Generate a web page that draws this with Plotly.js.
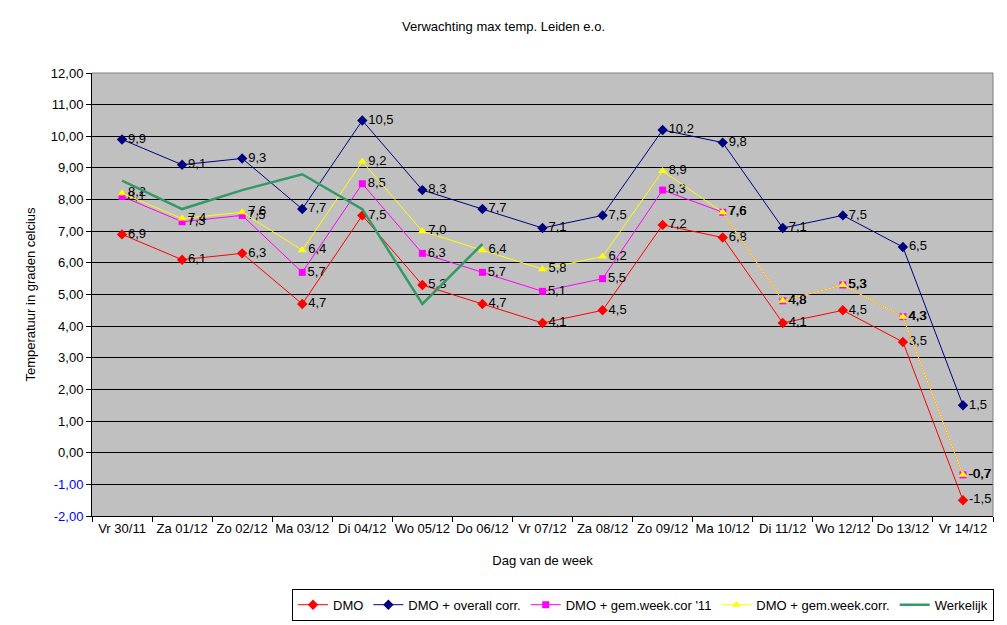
<!DOCTYPE html>
<html>
<head>
<meta charset="utf-8">
<script src="https://cdn.plot.ly/plotly-3.0.1.min.js"></script>
<style>
  html, body { margin: 0; padding: 0; background: #ffffff; }
  #chart { width: 1007px; height: 625px; }
</style>
</head>
<body>
<div id="chart"></div>
<script>
// dagen (categorie-as)
var dagen = ['Vr 30/11', 'Za 01/12', 'Zo 02/12', 'Ma 03/12', 'Di 04/12', 'Wo 05/12', 'Do 06/12',
             'Vr 07/12', 'Za 08/12', 'Zo 09/12', 'Ma 10/12', 'Di 11/12', 'Wo 12/12', 'Do 13/12', 'Vr 14/12'];

// verwachtingen
var dmo         = [6.9, 6.1, 6.3, 4.7, 7.5, 5.3, 4.7, 4.1, 4.5, 7.2, 6.8, 4.1, 4.5, 3.5, -1.5];
var dmoOverall  = [9.9, 9.1, 9.3, 7.7, 10.5, 8.3, 7.7, 7.1, 7.5, 10.2, 9.8, 7.1, 7.5, 6.5, 1.5];
var dmoWeek11   = [8.1, 7.3, 7.5, 5.7, 8.5, 6.3, 5.7, 5.1, 5.5, 8.3, 7.6, 4.8, 5.3, 4.3, -0.7];
var dmoWeek     = [8.2, 7.4, 7.6, 6.4, 9.2, 7.0, 6.4, 5.8, 6.2, 8.9, 7.6, 4.8, 5.3, 4.3, -0.7];
// gemeten
var werkelijk   = [8.6, 7.7, 8.3, 8.8, 7.7, 4.7, 6.6];

var yTicks = [-2, -1, 0, 1, 2, 3, 4, 5, 6, 7, 8, 9, 10, 11, 12];

var fontFam = 'Arial, "Liberation Sans", sans-serif';

function labels(arr) {
    return arr.map(function (v) { return v.toFixed(1).replace('.', ','); });
}

function serie(naam, y, kleur, symbool, grootte) {
    return {
        type: 'scatter',
        mode: 'lines+markers+text',
        name: naam,
        x: dagen,
        y: y,
        text: labels(y),
        textposition: 'middle right',
        textfont: { family: fontFam, size: 13, color: '#000000' },
        line: { color: kleur, width: 1 },
        marker: { color: kleur, symbol: symbool, size: grootte },
        cliponaxis: false
    };
}

var data = [
    serie('DMO', dmo, '#ff0000', 'diamond', 8),
    serie('DMO + overall corr.', dmoOverall, '#000080', 'diamond', 8),
    serie("DMO + gem.week.cor '11", dmoWeek11, '#ff00ff', 'square', 7),
    serie('DMO + gem.week.corr.', dmoWeek, '#ffff00', 'triangle-up', 8),
    {
        type: 'scatter',
        mode: 'lines',
        name: 'Werkelijk',
        x: dagen.slice(0, werkelijk.length),
        y: werkelijk,
        line: { color: '#339966', width: 2.5 }
    }
];

var yText = yTicks.map(function (v) {
    var t = v.toFixed(2).replace('.', ',');
    return v < 0 ? '<span style="fill:#0000ff">' + t + '</span>' : t;
});

var layout = {
    width: 1007,
    height: 625,
    paper_bgcolor: '#ffffff',
    plot_bgcolor: '#c0c0c0',
    font: { family: fontFam, size: 13, color: '#000000' },
    margin: { l: 92, r: 14, t: 73, b: 109, autoexpand: false },
    title: {
        text: 'Verwachting max temp. Leiden e.o.',
        font: { family: fontFam, size: 13, color: '#000000' },
        x: 0.5, xanchor: 'center',
        y: 0.957, yanchor: 'middle'
    },
    showlegend: true,
    legend: {
        orientation: 'h',
        x: 0.222, xanchor: 'left',
        yref: 'container',
        y: 0.058, yanchor: 'top',
        bgcolor: '#ffffff',
        bordercolor: '#000000',
        borderwidth: 1,
        font: { family: fontFam, size: 13, color: '#000000' },
        tracegroupgap: 0,
        itemwidth: 30
    },
    xaxis: {
        type: 'category',
        range: [-0.5, 14.5],
        automargin: false,
        showgrid: false,
        zeroline: false,
        showline: true,
        linecolor: '#000000',
        linewidth: 1,
        ticks: 'outside',
        tickson: 'boundaries',
        ticklen: 5,
        tickcolor: '#000000',
        tickangle: 0,
        tickfont: { family: fontFam, size: 13, color: '#000000' },
        title: { text: 'Dag van de week', font: { family: fontFam, size: 13 }, standoff: 21 }
    },
    yaxis: {
        range: [-2, 12],
        automargin: false,
        tickvals: yTicks,
        ticktext: yText,
        showgrid: true,
        gridcolor: '#000000',
        gridwidth: 1,
        zeroline: false,
        showline: true,
        linecolor: '#000000',
        linewidth: 1,
        ticks: 'outside',
        ticklen: 5,
        tickcolor: '#000000',
        tickfont: { family: fontFam, size: 13, color: '#000000' },
        title: { text: 'Temperatuur in graden celcius', font: { family: fontFam, size: 13 }, standoff: 12 }
    },
    shapes: [
        // grijze rand rond plotgebied (boven/rechts)
        { type: 'line', xref: 'paper', yref: 'paper', x0: 0, x1: 1, y0: 1, y1: 1,
          line: { color: '#808080', width: 1 }, layer: 'above' },
        { type: 'line', xref: 'paper', yref: 'paper', x0: 1, x1: 1, y0: 0, y1: 1,
          line: { color: '#808080', width: 1 }, layer: 'above' }
    ],
    hovermode: false
};

Plotly.newPlot('chart', data, layout, { displayModeBar: false, staticPlot: true });
</script>
</body>
</html>
